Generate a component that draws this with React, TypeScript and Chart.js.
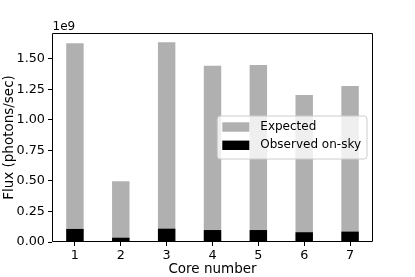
import React, { useEffect, useRef } from "react";
import { Chart, registerables } from "chart.js";

Chart.register(...registerables);

const categories = ["1", "2", "3", "4", "5", "6", "7"];
const expected = [1.629, 0.497, 1.637, 1.445, 1.45, 1.205, 1.279];
const observed = [0.107, 0.035, 0.109, 0.098, 0.098, 0.08, 0.085];
const yTicks = [0, 0.25, 0.5, 0.75, 1.0, 1.25, 1.5];
const yMax = 1.713;
const scaleFactor = 1e9;
const legendLabels = ["Expected", "Observed on-sky"];
const colors = ["#b0b0b0", "#000000"];

const FONT = "DejaVu Sans";

const overlayPlugin = {
  id: "overlay",
  afterDraw(chart: any) {
    const { ctx, chartArea: ca } = chart;
    ctx.save();
    // spines
    ctx.lineWidth = 1;
    ctx.strokeStyle = "#000";
    ctx.beginPath();
    ctx.moveTo(ca.left + 0.5, ca.top + 0.5);
    ctx.lineTo(ca.right - 0.5, ca.top + 0.5);
    ctx.lineTo(ca.right - 0.5, ca.bottom - 0.5);
    ctx.lineTo(ca.left + 0.5, ca.bottom - 0.5);
    ctx.closePath();
    ctx.stroke();

    // offset text
    ctx.fillStyle = "#000";
    ctx.font = `12px "${FONT}"`;
    ctx.textAlign = "left";
    ctx.textBaseline = "alphabetic";
    ctx.fillText("1e9", ca.left + 0.5, ca.top - 3);

    // legend
    const textW = Math.max(...legendLabels.map((t) => ctx.measureText(t).width));
    const boxH = 43;
    const boxW = 6 + 27 + 10 + textW + 6;
    const boxR = ca.right - 6;
    const boxL = boxR - boxW;
    const cy = (ca.top + ca.bottom) / 2;
    const boxT = cy - boxH / 2;
    const r = 3;
    ctx.beginPath();
    ctx.moveTo(boxL + r, boxT);
    ctx.lineTo(boxL + boxW - r, boxT);
    ctx.quadraticCurveTo(boxL + boxW, boxT, boxL + boxW, boxT + r);
    ctx.lineTo(boxL + boxW, boxT + boxH - r);
    ctx.quadraticCurveTo(boxL + boxW, boxT + boxH, boxL + boxW - r, boxT + boxH);
    ctx.lineTo(boxL + r, boxT + boxH);
    ctx.quadraticCurveTo(boxL, boxT + boxH, boxL, boxT + boxH - r);
    ctx.lineTo(boxL, boxT + r);
    ctx.quadraticCurveTo(boxL, boxT, boxL + r, boxT);
    ctx.closePath();
    ctx.fillStyle = "rgba(255,255,255,0.8)";
    ctx.fill();
    ctx.strokeStyle = "#cccccc";
    ctx.lineWidth = 1;
    ctx.stroke();

    legendLabels.forEach((label, i) => {
      const rowCy = boxT + 11 + i * 18.3;
      ctx.fillStyle = colors[i];
      ctx.fillRect(boxL + 5, rowCy - 4.7, 27, 9.4);
      ctx.fillStyle = "#000";
      ctx.textBaseline = "middle";
      ctx.fillText(label, boxL + 6 + 27 + 10, rowCy);
    });
    ctx.restore();
  },
};

export default function App() {
  const ref = useRef<HTMLCanvasElement | null>(null);
  useEffect(() => {
    if (!ref.current) return;
    const chart = new Chart(ref.current, {
      type: "bar",
      data: {
        labels: categories,
        datasets: [
          {
            label: legendLabels[0],
            data: expected.map((v) => v * scaleFactor),
            backgroundColor: colors[0],
            grouped: false,
            order: 2,
            barPercentage: 0.38,
            categoryPercentage: 1,
          } as any,
          {
            label: legendLabels[1],
            data: observed.map((v) => v * scaleFactor),
            backgroundColor: colors[1],
            grouped: false,
            order: 1,
            barPercentage: 0.38,
            categoryPercentage: 1,
          } as any,
        ],
      },
      options: {
        animation: false,
        responsive: false,
        maintainAspectRatio: false,
        layout: { padding: { top: 33, right: 42, left: 0, bottom: 0 } },
        plugins: {
          legend: { display: false },
          tooltip: { enabled: false },
        },
        scales: {
          x: {
            offset: true,
            grid: {
              display: true,
              drawOnChartArea: false,
              drawTicks: true,
              tickLength: 4,
              color: "#000",
              offset: false,
            },
            border: { display: false },
            ticks: {
              color: "#000",
              padding: 2,
              font: { family: FONT, size: 12.8 },
              maxRotation: 0,
            },
            title: {
              display: true,
              text: "Core number",
              color: "#000",
              font: { family: FONT, size: 13.5 },
              padding: { top: 0, bottom: -1 },
            },
            afterFit: (scale: any) => {
              scale.height = 35;
            },
          },
          y: {
            min: 0,
            max: yMax * scaleFactor,
            grid: {
              display: true,
              drawOnChartArea: false,
              drawTicks: true,
              tickLength: 4,
              color: "#000",
            },
            border: { display: false },
            afterBuildTicks: (scale: any) => {
              scale.ticks = yTicks.map((v) => ({ value: v * scaleFactor }));
            },
            ticks: {
              color: "#000",
              padding: 3,
              font: { family: FONT, size: 12.8 },
              callback: (v: any) => (Number(v) / scaleFactor).toFixed(2),
            },
            title: {
              display: true,
              text: "Flux (photons/sec)",
              color: "#000",
              font: { family: FONT, size: 13.5 },
              padding: { top: 1.5, bottom: 0 },
            },
            afterFit: (scale: any) => {
              scale.width = 52;
            },
          },
        },
      },
      plugins: [overlayPlugin],
    });
    return () => chart.destroy();
  }, []);
  return (
    <div style={{ position: "fixed", left: 0, top: 0, width: 415, height: 277, background: "#fff" }}>
      <canvas ref={ref} width={415} height={277} style={{ width: 415, height: 277, display: "block" }} />
    </div>
  );
}
